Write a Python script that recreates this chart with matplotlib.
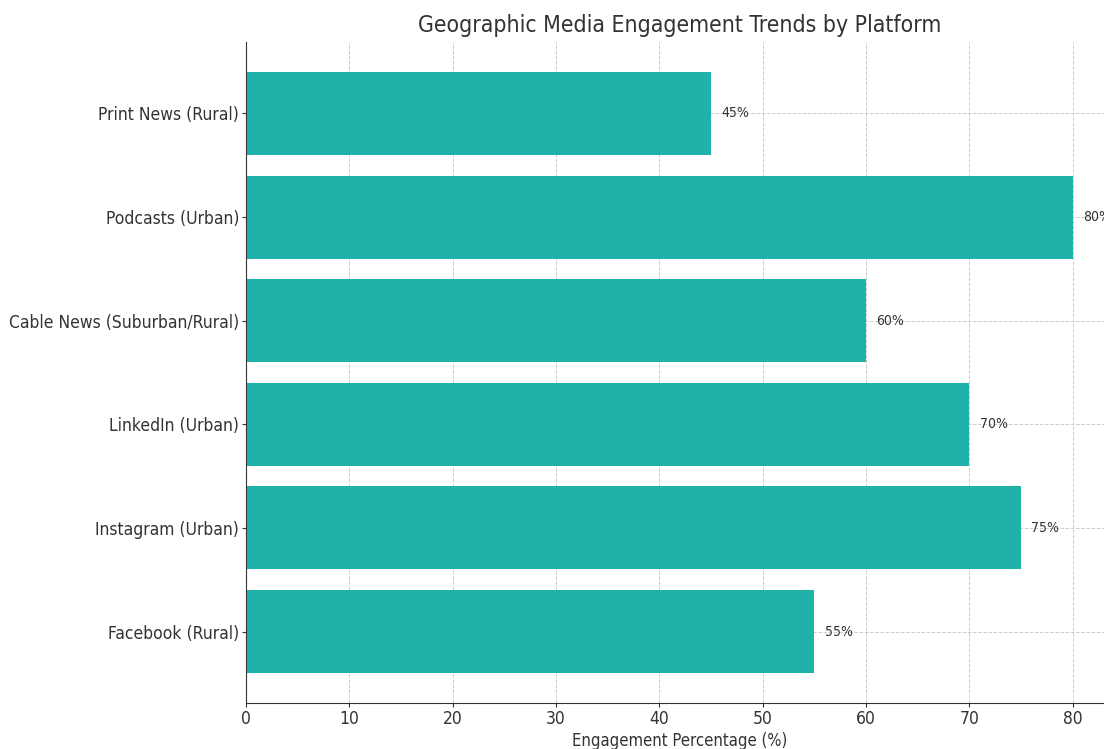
import matplotlib.pyplot as plt

platforms = ["Facebook (Rural)", "Instagram (Urban)", "LinkedIn (Urban)",
             "Cable News (Suburban/Rural)", "Podcasts (Urban)", "Print News (Rural)"]
engagement = [55, 75, 70, 60, 80, 45]

plt.rcParams['font.family'] = ['DejaVu Sans']
plt.rcParams['font.stretch'] = 'condensed'

fig = plt.figure(figsize=(11.04, 7.49), dpi=100)
ax = fig.add_axes([246 / 1104, 1 - 703 / 749, 868 / 1104, 661 / 749])

bars = ax.barh(platforms, engagement, color="#20B2AA", height=0.8)
for b, v in zip(bars, engagement):
    ax.text(v + 1, b.get_y() + b.get_height() / 2, "{}%".format(v),
            va="center", ha="left", fontsize=10, color="#333333")

ax.set_xlim(0, 84)
ax.set_title("Geographic Media Engagement Trends by Platform", fontsize=16.5,
             color="#333333", pad=7)
ax.set_xlabel("Engagement Percentage (%)", fontsize=12, color="#333333", labelpad=3)
ax.tick_params(axis="both", labelsize=12.5, colors="#333333", length=3, pad=2)
ax.grid(True, linestyle="--", color="#cccccc", linewidth=0.7)
ax.set_axisbelow(True)
for s in ["top", "right"]:
    ax.spines[s].set_visible(False)
ax.spines["left"].set_color("#333333")
ax.spines["bottom"].set_color("#333333")

fig.savefig("out.png", dpi=100)
